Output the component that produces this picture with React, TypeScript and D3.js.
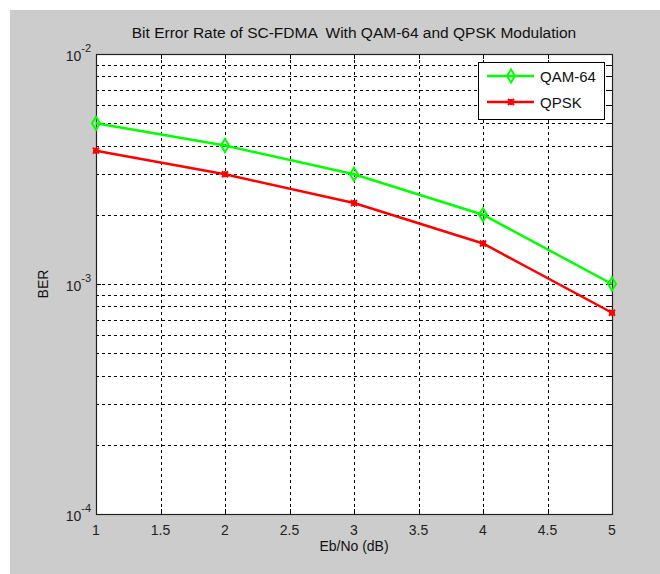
import React, { useEffect, useRef } from 'react';
import * as d3 from 'd3';

const ebNo = [1, 2, 3, 4, 5];
const qam64 = [5.0e-3, 4.0e-3, 3.0e-3, 2.0e-3, 1.0e-3];
const qpsk = [3.8e-3, 3.0e-3, 2.25e-3, 1.5e-3, 0.75e-3];
const xTicks = [1, 1.5, 2, 2.5, 3, 3.5, 4, 4.5, 5];
const yMajor = [1e-4, 1e-3, 1e-2];
const seriesNames = ['QAM-64', 'QPSK'];

export default function App() {
  const svgRef = useRef<SVGSVGElement>(null);

  useEffect(() => {
    document.body.style.margin = '0';
    if (!svgRef.current) return;
    const svg = d3.select(svgRef.current);
    svg.selectAll('*').remove();

    const W = 660;
    const H = 574;
    const margin = { top: 54, right: 48, bottom: 60, left: 96 };
    const width = W - margin.left - margin.right;
    const height = H - margin.top - margin.bottom;
    const font = 'Liberation Sans, Arial, sans-serif';

    // figure background
    svg.append('rect').attr('x', 10).attr('y', 10).attr('width', W - 10).attr('height', H - 10).attr('fill', '#cccccc');

    const g = svg.append('g').attr('transform', `translate(${margin.left},${margin.top})`);

    const x = d3.scaleLinear().domain([1, 5]).range([0, width]);
    const y = d3.scaleLog().domain([1e-4, 1e-2]).range([height, 0]);

    g.append('rect').attr('width', width).attr('height', height).attr('fill', '#fff');

    // minor log values
    const yMinor: number[] = [];
    yMajor.slice(0, -1).forEach((m) => {
      for (let k = 2; k <= 9; k++) yMinor.push(m * k);
    });

    // grid
    const gridStyle = (sel: any) =>
      sel.attr('stroke', '#000').attr('stroke-width', 1).attr('stroke-dasharray', '3,3').attr('shape-rendering', 'crispEdges');

    g.selectAll('.ygrid')
      .data([...yMajor, ...yMinor].filter((v) => v > 1e-4 && v < 1e-2))
      .enter()
      .append('line')
      .attr('x1', 0)
      .attr('x2', width)
      .attr('y1', (d) => Math.round(y(d)) + 0.5)
      .attr('y2', (d) => Math.round(y(d)) + 0.5)
      .call(gridStyle);

    g.selectAll('.xgrid')
      .data(xTicks.filter((v) => v > 1 && v < 5))
      .enter()
      .append('line')
      .attr('x1', (d) => Math.round(x(d)) + 0.5)
      .attr('x2', (d) => Math.round(x(d)) + 0.5)
      .attr('y1', 0)
      .attr('y2', height)
      .call(gridStyle);

    // ticks (inside, both sides)
    const tickG = g.append('g').attr('stroke', '#000').attr('stroke-width', 1).attr('shape-rendering', 'crispEdges');
    xTicks.forEach((t) => {
      const px = Math.round(x(t)) + 0.5;
      tickG.append('line').attr('x1', px).attr('x2', px).attr('y1', height).attr('y2', height - 5);
      tickG.append('line').attr('x1', px).attr('x2', px).attr('y1', 0).attr('y2', 5);
    });
    yMajor.forEach((t) => {
      const py = Math.round(y(t)) + 0.5;
      tickG.append('line').attr('x1', 0).attr('x2', 5).attr('y1', py).attr('y2', py);
      tickG.append('line').attr('x1', width).attr('x2', width - 5).attr('y1', py).attr('y2', py);
    });
    yMinor.forEach((t) => {
      const py = Math.round(y(t)) + 0.5;
      tickG.append('line').attr('x1', 0).attr('x2', 3).attr('y1', py).attr('y2', py);
      tickG.append('line').attr('x1', width).attr('x2', width - 3).attr('y1', py).attr('y2', py);
    });

    // box
    g.append('rect')
      .attr('x', 0.5)
      .attr('y', 0.5)
      .attr('width', width)
      .attr('height', height)
      .attr('fill', 'none')
      .attr('stroke', '#222')
      .attr('stroke-width', 1.2);

    // tick labels
    g.selectAll('.xlab')
      .data(xTicks)
      .enter()
      .append('text')
      .attr('x', (d) => x(d))
      .attr('y', height + 21)
      .attr('text-anchor', 'middle')
      .style('font-family', font)
      .style('font-size', '14px')
      .style('fill', '#222')
      .text((d) => String(d));

    yMajor.forEach((t) => {
      const txt = g
        .append('text')
        .attr('x', -5)
        .attr('y', y(t) + 7)
        .attr('text-anchor', 'end')
        .style('font-family', font)
        .style('font-size', '14px')
        .style('fill', '#222');
      txt.append('tspan').text('10');
      txt
        .append('tspan')
        .attr('dy', -9)
        .style('font-size', '11px')
        .text(String(Math.round(Math.log10(t))));
    });

    // series
    const line = d3
      .line<number>()
      .x((_, i) => x(ebNo[i]))
      .y((d) => y(d));

    g.append('path').datum(qam64).attr('d', line).attr('fill', 'none').attr('stroke', '#00ff00').attr('stroke-width', 2.5);
    g.append('path').datum(qpsk).attr('d', line).attr('fill', 'none').attr('stroke', '#ff0000').attr('stroke-width', 2.5);

    const diamond = (sel: any, cx: number, cy: number) =>
      sel
        .append('path')
        .attr('d', `M${cx},${cy - 6.5}L${cx + 4},${cy}L${cx},${cy + 6.5}L${cx - 4},${cy}Z`)
        .attr('fill', 'none')
        .attr('stroke', '#00ff00')
        .attr('stroke-width', 2);

    const star = (sel: any, cx: number, cy: number) => {
      const s = 3;
      sel
        .append('path')
        .attr(
          'd',
          `M${cx - s},${cy}L${cx + s},${cy}M${cx},${cy - s}L${cx},${cy + s}M${cx - s},${cy - s}L${cx + s},${cy + s}M${cx - s},${cy + s}L${cx + s},${cy - s}`
        )
        .attr('stroke', '#ff0000')
        .attr('stroke-width', 2);
    };

    qam64.forEach((v, i) => diamond(g, x(ebNo[i]), y(v)));
    qpsk.forEach((v, i) => star(g, x(ebNo[i]), y(v)));

    // legend
    const lg = g.append('g').attr('transform', `translate(${478 - margin.left},${62 - margin.top})`);
    lg.append('rect')
      .attr('x', 0.5)
      .attr('y', 0.5)
      .attr('width', 126)
      .attr('height', 57)
      .attr('fill', '#fff')
      .attr('stroke', '#000')
      .attr('stroke-width', 1);
    seriesNames.forEach((name, i) => {
      const ly = 14 + i * 26;
      const color = i === 0 ? '#00ff00' : '#ff0000';
      lg.append('line').attr('x1', 9).attr('x2', 56).attr('y1', ly).attr('y2', ly).attr('stroke', color).attr('stroke-width', 2.5);
      if (i === 0) diamond(lg, 33, ly);
      else star(lg, 33, ly);
      lg.append('text')
        .attr('x', 62)
        .attr('y', ly + 5.5)
        .style('font-family', font)
        .style('font-size', '15px')
        .style('fill', '#111')
        .text(name);
    });

    // title and axis labels
    svg.append('text')
      .attr('x', margin.left + width / 2)
      .attr('y', 38)
      .attr('text-anchor', 'middle')
      .style('font-family', font)
      .style('font-size', '15.5px')
      .style('white-space', 'pre')
      .style('fill', '#111')
      .text('Bit Error Rate of SC-FDMA  With QAM-64 and QPSK Modulation');

    svg.append('text')
      .attr('x', margin.left + width / 2)
      .attr('y', 551)
      .attr('text-anchor', 'middle')
      .style('font-family', font)
      .style('font-size', '14px')
      .style('fill', '#111')
      .text('Eb/No (dB)');

    svg.append('text')
      .attr('transform', `translate(48,${margin.top + height / 2}) rotate(-90)`)
      .attr('text-anchor', 'middle')
      .style('font-family', font)
      .style('font-size', '14px')
      .style('fill', '#111')
      .text('BER');
  }, []);

  return <svg ref={svgRef} width={660} height={574} style={{ display: 'block' }}></svg>;
}
